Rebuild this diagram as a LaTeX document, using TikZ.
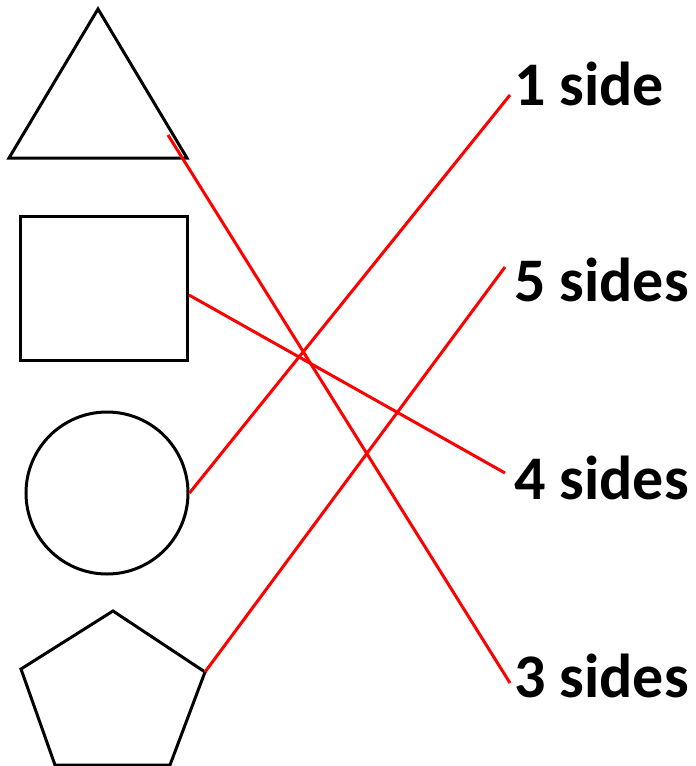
\documentclass[tikz,border=0pt]{standalone}
\usepackage{fontspec}
\setmainfont{Carlito}
\tikzset{
	shp/.style={draw,line width=3pt,line join=miter},
	lnk/.style={draw=red,line width=3pt},
	lbl/.style={anchor=base west,inner sep=0pt,font=\fontsize{62}{62}\selectfont\bfseries}
}
\begin{document}
\begin{tikzpicture}[x=1pt,y=-1pt]
	\useasboundingbox (0,0) rectangle (696,766);
	% shapes
	\draw [shp] (98,9)--(187,158)--(9,158)-- cycle;
	\node [shp,rectangle,minimum width=167pt,minimum height=144pt,inner sep=0pt] (sq) at (103.5,288) {};
	\node [shp,circle,minimum size=162pt,inner sep=0pt] (circ) at (107,493) {};
	\draw [shp] (113,611)--(205,672)--(170,765)--(55,765)--(21,669)-- cycle;
	\coordinate (tri) at (168,135);
	\coordinate (sqr) at (189,295);
	\coordinate (pen) at (205,672);
	% labels
	\node [lbl] (one) at (514,105) {1 side};
	\node [lbl] (five) at (514,301) {5 sides};
	\node [lbl] (four) at (514,499) {4 sides};
	\node [lbl] (three) at (514,697) {3 sides};
	\coordinate (e1) at (510,95);
	\coordinate (e5) at (505,267);
	\coordinate (e4) at (505,473);
	\coordinate (e3) at (510,683);
	% matches
	\draw [lnk] (tri)--(e3);
	\draw [lnk] (sqr)--(e4);
	\draw [lnk] (circ.east)--(e1);
	\draw [lnk] (pen)--(e5);
\end{tikzpicture}
\end{document}
